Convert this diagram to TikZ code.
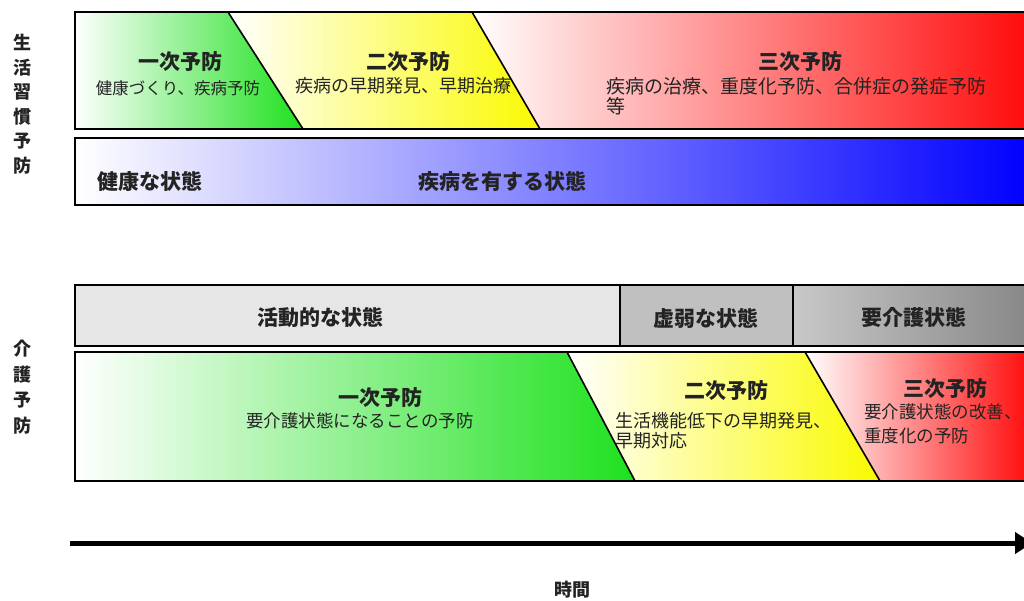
\documentclass[tikz,border=0pt]{standalone}
\usepackage{fontspec}
\newfontfamily\jp{Noto Sans CJK JP}
\usetikzlibrary{arrows.meta}
\definecolor{mygreen}{RGB}{30,225,30}
\definecolor{myyellow}{RGB}{250,250,0}
\definecolor{myred}{RGB}{255,10,10}
\definecolor{myblue}{RGB}{0,0,255}
\definecolor{ink}{RGB}{35,35,35}
\definecolor{g1}{RGB}{230,230,230}
\definecolor{g2}{RGB}{192,192,192}
\definecolor{g3}{RGB}{200,200,200}
\definecolor{g4}{RGB}{135,135,135}
\begin{document}
\begin{tikzpicture}[x=1pt,y=-1pt,
  every node/.style={inner sep=0pt, text=ink},
  ttl/.style={font=\jp\bfseries\fontsize{21}{24}\selectfont},
  subtxt/.style={font=\jp\fontsize{#1}{20}\selectfont},
  subtxt/.default=17.5,
  statetxt/.style={font=\jp\bfseries\fontsize{21}{24}\selectfont},
  sidetxt/.style={font=\jp\bfseries\fontsize{18}{24.5}\selectfont, align=center},
  frame/.style={draw=black, line width=2pt},
  slant/.style={draw=black, line width=1.6pt}]
\useasboundingbox (0,0) rectangle (1024,601);
\fill[white] (0,0) rectangle (1024,601);

% ---------- top: lifestyle disease prevention ----------
\shade[left color=white, right color=mygreen] (75,12) -- (228,12) -- (303,129) -- (75,129) -- cycle;
\shade[left color=white, right color=myyellow] (228,12) -- (472,12) -- (540,129) -- (303,129) -- cycle;
\shade[left color=white, right color=myred] (472,12) -- (1032,12) -- (1032,129) -- (540,129) -- cycle;
\draw[slant] (228,12) -- (303,129);
\draw[slant] (472,12) -- (540,129);
\draw[frame] (75,12) rectangle (1034,129);

\shade[left color=white, right color=myblue] (75,138) rectangle (1032,205);
\draw[frame] (75,138) rectangle (1034,205);

\node[ttl] (p1) at (180,62) {一次予防};
\node[subtxt=16.5] (p1s) at (178,88) {健康づくり、疾病予防};
\node[ttl] (p2) at (408,62) {二次予防};
\node[subtxt=18] (p2s) at (403,86) {疾病の早期発見、早期治療};
\node[ttl] (p3) at (800,62) {三次予防};
\node[subtxt=19, anchor=west, align=left] (p3s) at (606,96) {疾病の治療、重度化予防、合併症の発症予防\\等};

\node[statetxt] (healthy) at (150,182) {健康な状態};
\node[statetxt] (ill) at (502,182) {疾病を有する状態};

\node[sidetxt] (side1) at (22,104) {生\\活\\習\\慣\\予\\防};

% ---------- bottom: long-term care prevention ----------
\fill[g1] (75,285) rectangle (620,346);
\fill[g2] (620,285) rectangle (793,346);
\shade[left color=g3, right color=g4] (793,285) rectangle (1032,346);
\draw[frame] (75,285) rectangle (1034,346);
\draw[frame] (620,285) -- (620,346);
\draw[frame] (793,285) -- (793,346);

\node[statetxt] (active) at (320,318) {活動的な状態};
\node[statetxt] (frail) at (706,318) {虚弱な状態};
\node[statetxt] (care) at (914,318) {要介護状態};

\shade[left color=white, right color=mygreen] (75,352) -- (567,352) -- (635,481) -- (75,481) -- cycle;
\shade[left color=white, right color=myyellow] (567,352) -- (805,352) -- (880,481) -- (635,481) -- cycle;
\shade[left color=white, right color=myred] (805,352) -- (1032,352) -- (1032,481) -- (880,481) -- cycle;
\draw[slant] (567,352) -- (635,481);
\draw[slant] (805,352) -- (880,481);
\draw[frame] (75,352) rectangle (1034,481);

\node[ttl] (q1) at (380,398) {一次予防};
\node[subtxt] (q1s) at (360,421) {要介護状態になることの予防};
\node[ttl] (q2) at (726,391) {二次予防};
\node[subtxt=18, anchor=west, align=left] (q2s) at (615,431) {生活機能低下の早期発見、\\早期対応};
\node[ttl] (q3) at (945,389) {三次予防};
\node[subtxt, anchor=west, align=left, font=\jp\fontsize{17.5}{24}\selectfont] (q3s) at (864,424) {要介護状態の改善、\\重度化の予防};

\node[sidetxt, font=\jp\bfseries\fontsize{18}{25.5}\selectfont] (side2) at (22,387) {介\\護\\予\\防};

% ---------- time axis ----------
\coordinate (t0) at (70,543);
\coordinate (t1) at (1032,543);
\draw[line width=5pt, -{Triangle[length=17pt, width=21pt]}] (t0) -- (t1);
\node[font=\jp\bfseries\fontsize{18}{20}\selectfont] (time) at (572,590) {時間};
\end{tikzpicture}
\end{document}
